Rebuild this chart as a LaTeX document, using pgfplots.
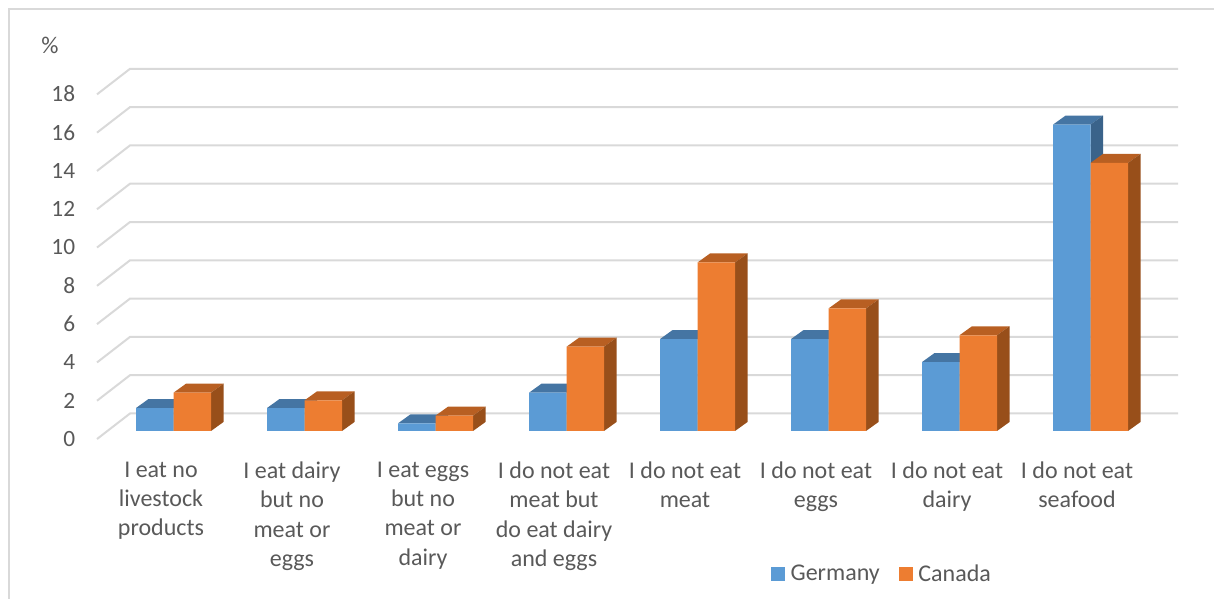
\documentclass[border=0pt]{standalone}
\usepackage{pgfplots}
\pgfplotsset{compat=1.18}
\usepackage{fontspec}
\setmainfont{Carlito}
\definecolor{txt}{HTML}{595959}
\definecolor{gridc}{HTML}{D9D9D9}
\definecolor{gfront}{HTML}{5B9BD5}
\definecolor{gtop}{HTML}{4575A3}
\definecolor{gside}{HTML}{3A638A}
\definecolor{cfront}{HTML}{ED7D31}
\definecolor{ctop}{HTML}{B85F22}
\definecolor{cside}{HTML}{984F1A}
% px = 0.75pt; x axis is in reference pixels, y axis in percent
\newcommand\gridl[1]{%
  \pgfmathsetmacro\ya{#1-0.42}\pgfmathsetmacro\yb{#1+0.914}%
  \edef\tmp{\noexpand\addplot[forget plot,draw=gridc,line width=1.5pt] coordinates {(97,\ya) (130,\yb) (1178,\yb)};}\tmp}
% depth faces of a bar: left x, right x, value, top colour, side colour
\newcommand\depth[5]{%
  \pgfmathsetmacro\xa{#1+12.5}\pgfmathsetmacro\xb{#2+12.5}\pgfmathsetmacro\yb{#3+0.47}%
  \edef\tmp{\noexpand\addplot[forget plot,fill=#4,draw=none] coordinates {(#1,#3) (\xa,\yb) (\xb,\yb) (#2,#3)} -- cycle;
  \noexpand\addplot[forget plot,fill=#5,draw=none] coordinates {(#2,0) (\xb,0.47) (\xb,\yb) (#2,#3)} -- cycle;}\tmp}
\begin{document}
\begin{tikzpicture}
\useasboundingbox (0,0) rectangle (910.5pt,449.25pt);
\draw[gridc,line width=1.2pt] (6.9pt,0) -- (6.9pt,442.5pt) -- (910.5pt,442.5pt);
\begin{axis}[
  at={(56.25pt,126pt)},anchor=south west,scale only axis,
  width=854.25pt,height=258.5pt,
  xmin=75,xmax=1214,ymin=0,ymax=18,clip=false,
  axis line style={draw=none},major tick length=0pt,
  ytick={0,2,...,18},
  xtick={161,292,423,554,685,816,947,1077},
  xticklabels={{I eat no\\livestock\\products},{I eat dairy\\but no\\meat or\\eggs},{I eat eggs\\but no\\meat or\\dairy},{I do not eat\\meat but\\do eat dairy\\and eggs},{I do not eat\\meat},{I do not eat\\eggs},{I do not eat\\dairy},{I do not eat\\seafood}},
  tick label style={text=txt},
  /pgf/number format/assume math mode=true,
  yticklabel style={font=\fontsize{17.5}{22}\selectfont,yshift=-5.8pt,xshift=3.6pt},
  xticklabel style={font=\fontsize{18}{22}\selectfont,align=center,yshift=-19.5pt},
  legend style={at={(axis cs:767,-7.47)},anchor=west,draw=none,fill=none,legend columns=2,
    font=\fontsize{18}{20}\selectfont,text=txt,
    /tikz/every even column/.append style={column sep=12.5pt}},
  legend image code/.code={\fill[#1] (0pt,-5.2pt) rectangle (10.5pt,5.2pt);},
]
\gridl{0}\gridl{2}\gridl{4}\gridl{6}\gridl{8}\gridl{10}\gridl{12}\gridl{14}\gridl{16}\gridl{18}
\depth{136}{173.5}{1.2}{gtop}{gside}
\depth{267}{304.5}{1.2}{gtop}{gside}
\depth{398}{435.5}{0.4}{gtop}{gside}
\depth{529}{566.5}{2}{gtop}{gside}
\depth{660}{697.5}{4.8}{gtop}{gside}
\depth{791}{828.5}{4.8}{gtop}{gside}
\depth{922}{959.5}{3.6}{gtop}{gside}
\depth{1053}{1090.5}{16}{gtop}{gside}
\addplot[ybar,bar width=37.5,bar shift=-18.75,fill=gfront,draw=none] coordinates {(173.5,1.2) (304.5,1.2) (435.5,0.4) (566.5,2) (697.5,4.8) (828.5,4.8) (959.5,3.6) (1090.5,16)};
\addlegendentry{\hspace*{2pt}Germany}
\depth{173.5}{211}{2}{ctop}{cside}
\depth{304.5}{342}{1.6}{ctop}{cside}
\depth{435.5}{473}{0.8}{ctop}{cside}
\depth{566.5}{604}{4.4}{ctop}{cside}
\depth{697.5}{735}{8.8}{ctop}{cside}
\depth{828.5}{866}{6.4}{ctop}{cside}
\depth{959.5}{997}{5}{ctop}{cside}
\depth{1090.5}{1128}{14}{ctop}{cside}
\addplot[ybar,bar width=37.5,bar shift=18.75,fill=cfront,draw=none] coordinates {(173.5,2) (304.5,1.6) (435.5,0.8) (566.5,4.4) (697.5,8.8) (828.5,6.4) (959.5,5) (1090.5,14)};
\addlegendentry{\hspace*{2pt}Canada}
\node[font=\fontsize{18}{20}\selectfont,text=txt] at (axis cs:50,20.16) {\%};
\end{axis}
\end{tikzpicture}
\end{document}
